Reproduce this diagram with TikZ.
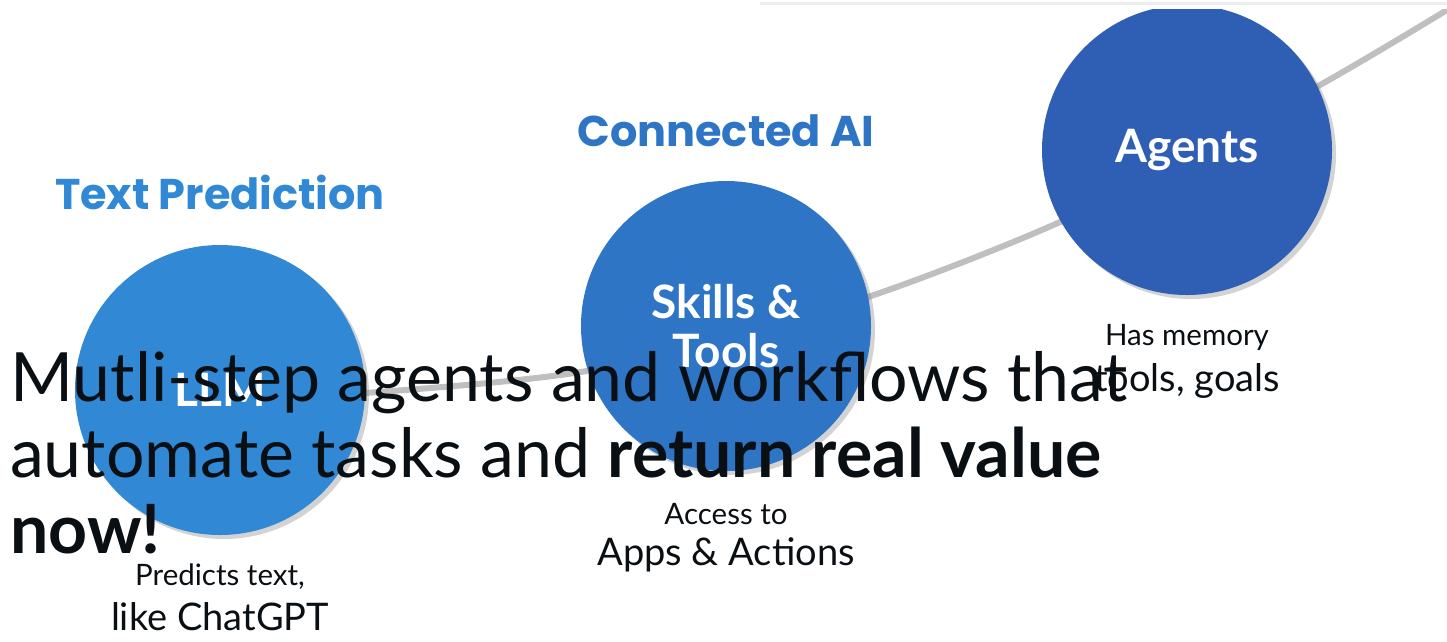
\documentclass[tikz,border=0pt]{standalone}
\usepackage{fontspec}
\setmainfont{Lato}
\newfontfamily\headfont{Poppins}
\usetikzlibrary{shadows}
\definecolor{llmblue}{HTML}{3189D6}
\definecolor{toolblue}{HTML}{2F75C6}
\definecolor{agentblue}{HTML}{2F5FB4}
\definecolor{inkblack}{HTML}{0A0F14}

\begin{document}
\begin{tikzpicture}[x=1pt,y=-1pt,
  stage/.style={circle, minimum size=290pt, inner sep=0pt, text=white,
    font=\bfseries\fontsize{46}{49}\selectfont, align=center,
    drop shadow={shadow xshift=4pt, shadow yshift=-4pt, opacity=.35}},
  heading/.style={font=\headfont\bfseries\fontsize{43}{48}\selectfont},
  caption/.style={align=center, text=inkblack, inner sep=0pt},
  trend/.style={line width=6pt, draw=black!25, line cap=round}]
  \useasboundingbox (0,0) rectangle (1447,641);
  % the rising curve behind the stages
  \coordinate (start) at (230,398);
  \coordinate (finish) at (1447,10);
  \draw[trend] plot[smooth, tension=0.6] coordinates
    {(start) (365,393) (581,372) (726,336) (871,296) (1060,222) (1187,155) (1320,85) (finish)};
  % stages
  \node[stage, fill=llmblue] (llm) at (220,390) {LLM};
  \node[stage, fill=toolblue] (tools) at (726,326) {Skills \&\\Tools};
  \node[stage, fill=agentblue] (agents) at (1187,150) {Agents};
  \fill[white] (0,0) rectangle (1447,9);
  \coordinate (rulea) at (760,3);
  \coordinate (ruleb) at (1447,3);
  \draw[black!7, line width=3pt] (rulea) -- (ruleb);
  % headings
  \node[heading, text=llmblue] (predhead) at (220,192) {Text Prediction};
  \node[heading, text=toolblue] (connhead) at (726,131) {Connected AI};
  % captions
  \node[caption] (llmcap) at (220,597)
    {\fontsize{29.5}{36}\selectfont Predicts text,\\[12pt]\fontsize{38}{40}\selectfont like ChatGPT};
  \node[caption] (toolcap) at (726,538)
    {\fontsize{29.5}{36}\selectfont Access to\\[12pt]\fontsize{38}{40}\selectfont Apps \& Actions};
  \node[caption] (agentcap) at (1187,361)
    {\fontsize{29.5}{36}\selectfont Has memory\\[12pt]\fontsize{38}{40}\selectfont tools, goals};
  % overlay text
  \node[anchor=base west, align=left, text=inkblack, inner sep=0pt,
    font=\fontsize{68}{76}\selectfont] (slogan) at (10,553)
    {Mutli-step agents and workflows that\\automate tasks and \textbf{return real value}\\\textbf{now!}};
\end{tikzpicture}
\end{document}
